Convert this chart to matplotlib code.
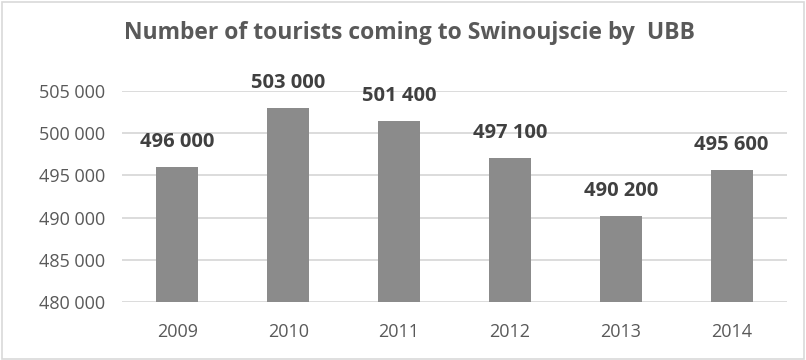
import matplotlib
matplotlib.use("Agg")
import matplotlib.pyplot as plt
from matplotlib.patches import Rectangle

years = ["2009", "2010", "2011", "2012", "2013", "2014"]
tourists = [496000, 503000, 501400, 497100, 490200, 495600]
yticks = [480000, 485000, 490000, 495000, 500000, 505000]

def fmt(v):
    return f"{v:,}".replace(",", " ")

plt.rcParams['font.family'] = ['Open Sans', 'DejaVu Sans']

fig = plt.figure(figsize=(8.06, 3.6), dpi=100)
ax = fig.add_axes([122/806, 1-302/360, (787-122)/806, (302-91)/360])

x = range(len(years))
ax.bar(x, tourists, width=0.38, color="#8b8b8b", zorder=3)
ax.set_ylim(480000, 505000)
ax.set_xlim(-0.5, len(years)-0.5)
ax.set_yticks(yticks)
ax.set_yticklabels([fmt(v) for v in yticks], color="#595959", fontsize=13)
ax.set_xticks(list(x))
ax.set_xticklabels(years, color="#595959", fontsize=13)
ax.tick_params(axis='both', length=0)
ax.tick_params(axis='y', pad=12)
ax.tick_params(axis='x', pad=15)
for s in ax.spines.values():
    s.set_visible(False)
ax.grid(axis='y', color="#d9d9d9", linewidth=1.3, zorder=0)
ax.set_axisbelow(True)

for xi, v in zip(x, tourists):
    ax.annotate(fmt(v), (xi, v), xytext=(0, 18), textcoords="offset points",
                ha="center", va="center", fontsize=14.5, fontweight="bold",
                color="#404040", clip_on=False)

fig.text(409.5/806, 1-33/360, "Number of tourists coming to Swinoujscie by  UBB",
         ha="center", va="center", fontsize=16.5, fontweight="bold", color="#595959")

fig.patches.append(Rectangle((0.003, 0.004), 0.994, 0.99, transform=fig.transFigure,
                             fill=False, edgecolor="#d9d9d9", linewidth=1.2))

fig.savefig("out.png", dpi=100)
